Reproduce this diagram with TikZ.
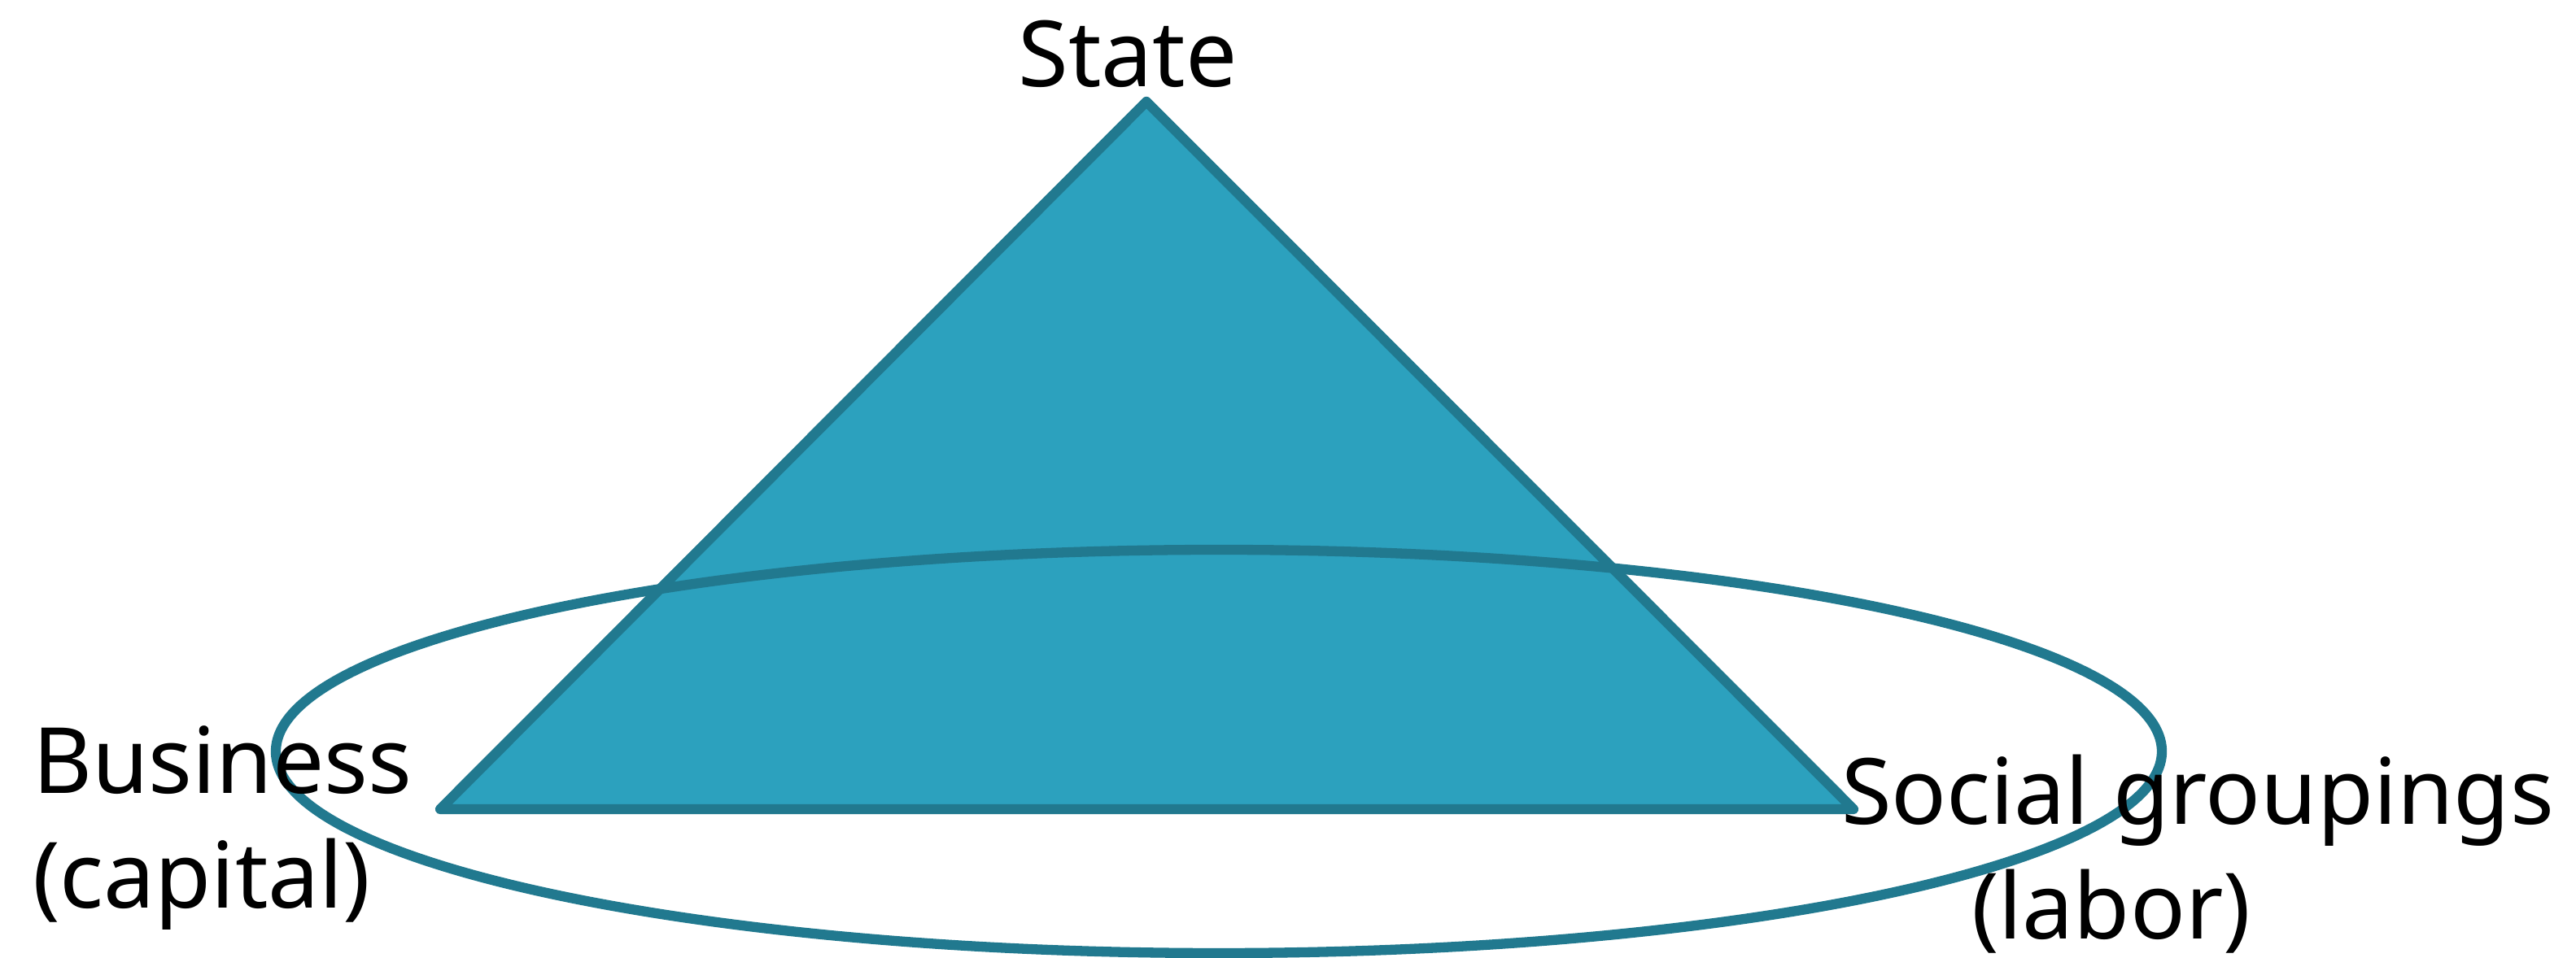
\documentclass[tikz,border=0pt]{standalone}
\usepackage{fontspec}
\setmainfont{Noto Sans}
\definecolor{tfill}{HTML}{2CA1BE}
\definecolor{tline}{HTML}{21798F}
\begin{document}
\begin{tikzpicture}[
  lbl/.style={inner sep=0pt, outer sep=0pt, font=\fontsize{32pt}{40pt}\selectfont},
  shapeline/.style={draw=tline, line width=3.5pt, line join=round}
]
\useasboundingbox (0,0) rectangle (31.66,11.78);
\coordinate (apex) at (14.09,10.53);
\coordinate (bl) at (5.41,1.83);
\coordinate (br) at (22.78,1.83);
\fill[tfill] (apex) -- (bl) -- (br) -- cycle;
\draw[shapeline] (apex) -- (bl) -- (br) -- cycle;
\coordinate (ec) at (14.98,2.54);
\draw[shapeline] (ec) ellipse [x radius=11.59, y radius=2.48];
\node[lbl, anchor=base] (state) at (13.86,10.71) {State};
\node[lbl, anchor=base west] (business) at (0.40,2.02) {\begin{tabular}[t]{@{}l@{}}Business\\(capital)\end{tabular}};
\node[lbl, anchor=base west] (social) at (22.63,1.64) {\begin{tabular}[t]{@{}l@{}}Social groupings\\\hspace{1.6cm}(labor)\end{tabular}};
\end{tikzpicture}
\end{document}
